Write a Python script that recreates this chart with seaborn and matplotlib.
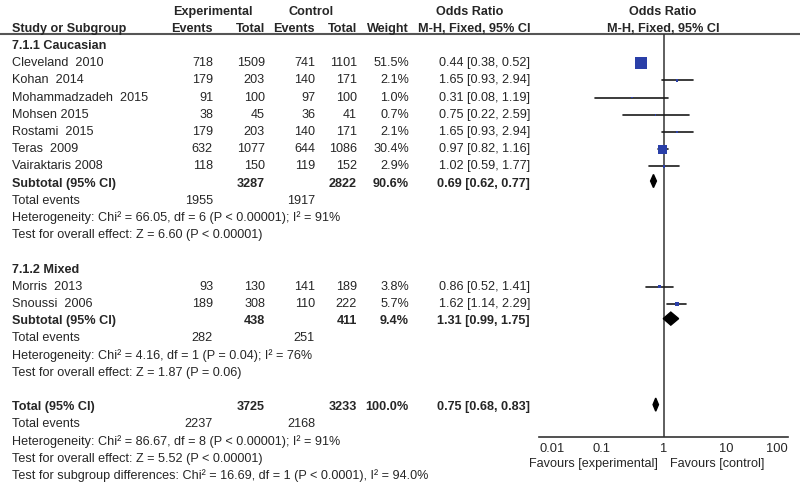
import numpy as np
import pandas as pd
import matplotlib
matplotlib.use("Agg")
import matplotlib.pyplot as plt
import seaborn as sns

# ---- study level data ----
studies = ["Cleveland  2010", "Kohan  2014", "Mohammadzadeh  2015", "Mohsen 2015",
           "Rostami  2015", "Teras  2009", "Vairaktaris 2008",
           "Morris  2013", "Snoussi  2006"]
subgroup = ["7.1.1 Caucasian"] * 7 + ["7.1.2 Mixed"] * 2
exp_events = [718, 179, 91, 38, 179, 632, 118, 93, 189]
exp_total = [1509, 203, 100, 45, 203, 1077, 150, 130, 308]
ctrl_events = [741, 140, 97, 36, 140, 644, 119, 141, 110]
ctrl_total = [1101, 171, 100, 41, 171, 1086, 152, 189, 222]
weight = [51.5, 2.1, 1.0, 0.7, 2.1, 30.4, 2.9, 3.8, 5.7]
odds = [0.44, 1.65, 0.31, 0.75, 1.65, 0.97, 1.02, 0.86, 1.62]
ci_lo = [0.38, 0.93, 0.08, 0.22, 0.93, 0.82, 0.59, 0.52, 1.14]
ci_hi = [0.52, 2.94, 1.19, 2.59, 2.94, 1.16, 1.77, 1.41, 2.29]

# ---- pooled results ----
pool_names = ["7.1.1 Caucasian", "7.1.2 Mixed", "Total"]
pool_exp_total = [3287, 438, 3725]
pool_ctrl_total = [2822, 411, 3233]
pool_weight = [90.6, 9.4, 100.0]
pool_or = [0.69, 1.31, 0.75]
pool_lo = [0.62, 0.99, 0.68]
pool_hi = [0.77, 1.75, 0.83]
pool_exp_events = [1955, 282, 2237]
pool_ctrl_events = [1917, 251, 2168]
pool_het = ["Heterogeneity: Chi² = 66.05, df = 6 (P < 0.00001); I² = 91%",
            "Heterogeneity: Chi² = 4.16, df = 1 (P = 0.04); I² = 76%",
            "Heterogeneity: Chi² = 86.67, df = 8 (P < 0.00001); I² = 91%"]
pool_z = ["Test for overall effect: Z = 6.60 (P < 0.00001)",
          "Test for overall effect: Z = 1.87 (P = 0.06)",
          "Test for overall effect: Z = 5.52 (P < 0.00001)"]
subgroup_test = "Test for subgroup differences: Chi² = 16.69, df = 1 (P < 0.0001), I² = 94.0%"

axis_ticks = [0.01, 0.1, 1, 10, 100]
axis_labels = ["0.01", "0.1", "1", "10", "100"]

sns.set_style("white")
plt.rcParams["font.family"] = ["Liberation Sans", "DejaVu Sans"]

FS = 9.1
TXT = "#262626"
ROW0, STEP = 46, 17.2  # pixel y of first row and row spacing

# build row layout
rows = []
for gi, g in enumerate(pool_names[:2]):
    rows.append(("group", g))
    for i in range(len(studies)):
        if subgroup[i] == g:
            rows.append(("study", i))
    rows.append(("subtotal", gi))
    rows.append(("events", gi))
    rows.append(("het", gi))
    rows.append(("z", gi))
    rows.append(("blank", None))
rows.append(("total", 2))
rows.append(("events", 2))
rows.append(("het", 2))
rows.append(("z", 2))
rows.append(("sgtest", None))

fig = plt.figure(figsize=(8, 5), dpi=100)
tx = fig.add_axes([0, 0, 1, 1])
tx.set_xlim(0, 800)
tx.set_ylim(500, 0)
tx.axis("off")

# forest panel, pixel x 539..788, pixel y 34..437
px_top, px_bot = 34, 437
fx = fig.add_axes([539 / 800, 1 - px_bot / 500, (788 - 539) / 800, (px_bot - px_top) / 500])
fx.set_xscale("log")
for s in ["top", "left", "right"]:
    fx.spines[s].set_visible(False)
fx.spines["bottom"].set_color("#333333")
fx.spines["bottom"].set_linewidth(1.2)
fx.patch.set_alpha(0)
fx.axvline(1, color="#333333", lw=1.1, zorder=1)


def txt(x, row, s, ha="left", bold=False):
    tx.text(x, ROW0 + STEP * row, s, ha=ha, va="center", fontsize=FS, color=TXT,
            fontweight="bold" if bold else "normal")


# headers
hy1, hy2 = 12, 29
for x, s in [(213, "Experimental"), (311, "Control"), (470, "Odds Ratio"), (663, "Odds Ratio")]:
    tx.text(x, hy1, s, ha="center", va="center", fontsize=FS, color=TXT, fontweight="bold")
for x, s, ha in [(12, "Study or Subgroup", "left"), (213, "Events", "right"), (265, "Total", "right"),
                 (315, "Events", "right"), (357, "Total", "right"), (409, "Weight", "right"),
                 (530, "M-H, Fixed, 95% CI", "right"), (663, "M-H, Fixed, 95% CI", "center")]:
    tx.text(x, hy2, s, ha=ha, va="center", fontsize=FS, color=TXT, fontweight="bold")
tx.plot([0, 800], [px_top, px_top], color="#555555", lw=1.5)

study_rows = []
pool_rows = []
for r, (kind, p) in enumerate(rows):
    if kind == "group":
        txt(12, r, p, bold=True)
    elif kind == "study":
        i = p
        study_rows.append(r)
        txt(12, r, studies[i])
        txt(213, r, str(exp_events[i]), "right")
        txt(265, r, str(exp_total[i]), "right")
        txt(315, r, str(ctrl_events[i]), "right")
        txt(357, r, str(ctrl_total[i]), "right")
        txt(409, r, f"{weight[i]:.1f}%", "right")
        txt(530, r, f"{odds[i]:.2f} [{ci_lo[i]:.2f}, {ci_hi[i]:.2f}]", "right")
    elif kind in ("subtotal", "total"):
        pool_rows.append(r)
        txt(12, r, "Subtotal (95% CI)" if kind == "subtotal" else "Total (95% CI)", bold=True)
        txt(265, r, str(pool_exp_total[p]), "right", True)
        txt(357, r, str(pool_ctrl_total[p]), "right", True)
        txt(409, r, f"{pool_weight[p]:.1f}%", "right", True)
        txt(530, r, f"{pool_or[p]:.2f} [{pool_lo[p]:.2f}, {pool_hi[p]:.2f}]", "right", True)
    elif kind == "events":
        txt(12, r, "Total events")
        txt(213, r, str(pool_exp_events[p]), "right")
        txt(315, r, str(pool_ctrl_events[p]), "right")
    elif kind == "het":
        txt(12, r, pool_het[p])
    elif kind == "z":
        txt(12, r, pool_z[p])
    elif kind == "sgtest":
        txt(12, r, subgroup_test)

# study markers and CIs
df = pd.DataFrame({"row": study_rows, "odds": odds, "lo": ci_lo, "hi": ci_hi, "weight": weight})
for _, d in df.iterrows():
    fx.plot([d["lo"], d["hi"]], [d["row"], d["row"]], color="#1a1a1a", lw=1.2, zorder=2)
sns.scatterplot(data=df, x="odds", y="row", size="weight", sizes=(1.5 * 0.7, 1.5 * 51.5),
                size_norm=(0.7, 51.5), marker="s", color="#2a3fa8", edgecolor="none",
                legend=False, ax=fx, zorder=3)

# pooled diamonds
h = 0.38
for r, o, lo, hi in zip(pool_rows, pool_or, pool_lo, pool_hi):
    fx.fill([lo, o, hi, o], [r - 0.15, r - 0.15 - h, r - 0.15, r - 0.15 + h], color="black", zorder=3)

fx.set_xlabel("")
fx.set_ylabel("")
fx.set_xlim(0.01, 100)
fx.set_ylim((px_bot - ROW0) / STEP, (px_top - ROW0) / STEP)
fx.set_yticks([])
fx.set_xticks(axis_ticks)
fx.set_xticklabels(axis_labels)
fx.minorticks_off()
fx.tick_params(axis="x", direction="inout", length=7, width=1.2, color="#333333",
               labelsize=9.3, labelcolor=TXT, pad=1)
labs = fx.get_xticklabels()
labs[0].set_horizontalalignment("left")
labs[-1].set_horizontalalignment("right")

tx.text(658, 464, "Favours [experimental]", ha="right", va="center", fontsize=FS, color=TXT)
tx.text(670, 464, "Favours [control]", ha="left", va="center", fontsize=FS, color=TXT)

fig.savefig("out.png", dpi=100)
